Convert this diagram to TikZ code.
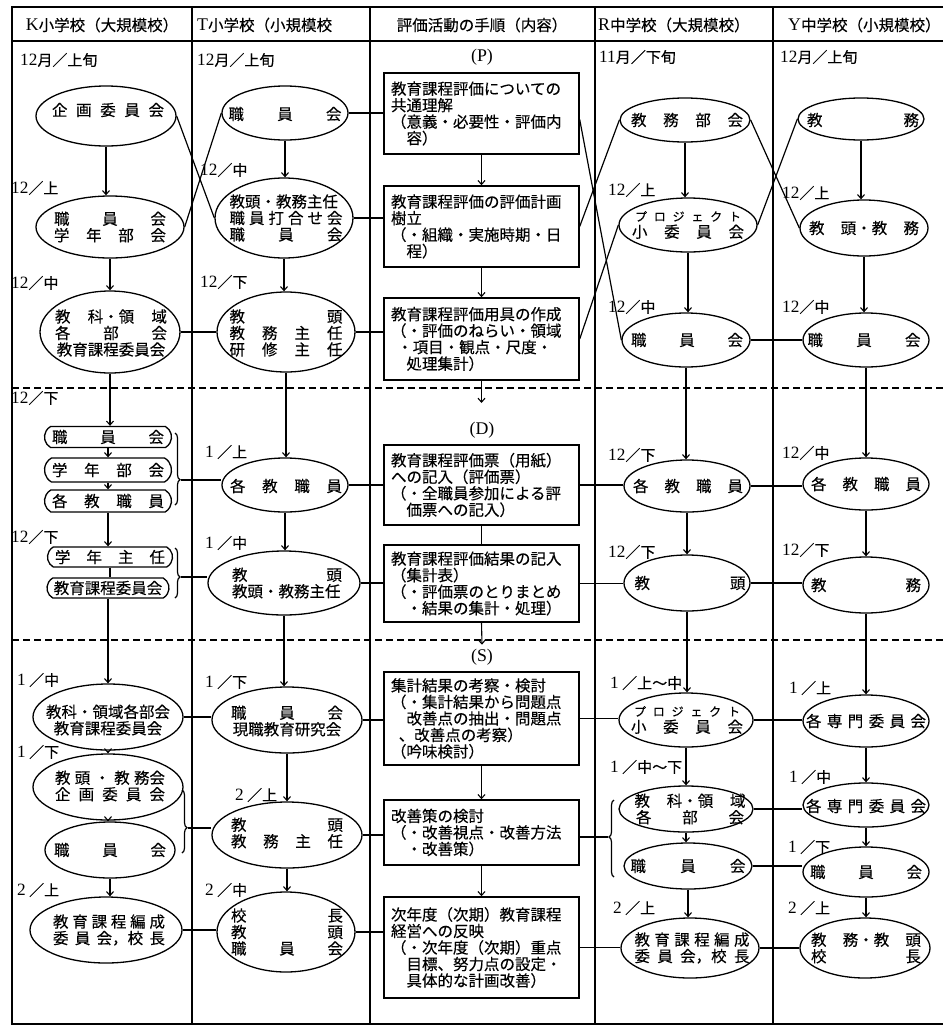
\documentclass[tikz,border=0pt]{standalone}
\usepackage{fontspec}
\setmainfont{Noto Sans CJK JP}[FakeBold=0.3]
\newfontfamily\lat{Liberation Serif}[Scale=1.15]
\usetikzlibrary{shapes.geometric,shapes.misc,arrows.meta,decorations.pathreplacing}
\newcommand{\spr}[2]{\makebox[#1pt][s]{#2}}
\newcommand{\dg}[1]{{\lat #1}}
\begin{document}
\begin{tikzpicture}[x=1pt,y=-1pt,
  every node/.style={font=\fontsize{15.5}{16.5}\selectfont, inner sep=0pt},
  ell/.style={draw, ellipse, line width=1.3pt},
  capsule/.style={draw, rounded rectangle, rounded rectangle arc length=120, line width=1.3pt},
  box/.style={draw, line width=1.4pt, minimum width=195pt, text width=181pt, align=left, inner xsep=7pt},
  ln/.style={line width=1.2pt},
  arr/.style={line width=1.1pt, -{Straight Barb[length=4pt,width=7pt]}},
  lbl/.style={anchor=west, font=\fontsize{15}{16}\selectfont},
  hd/.style={font=\fontsize{15.5}{17}\selectfont},
  frm/.style={line width=1.8pt},
  col/.style={line width=1.2pt},
  sep/.style={line width=1.3pt, dash pattern=on 7pt off 4pt},
  brc/.style={line width=1.2pt, decorate}
]
\useasboundingbox (0,0) rectangle (943,1028);
% frame and grid
\draw[frm] (943,7) -- (12,7) -- (12,1024) -- (943,1024);
\draw[col] (12,41) -- (943,41);
\foreach \x in {192,370,595,773} \draw[col] (\x,7) -- (\x,1024);
\draw[sep] (12,388) -- (943,388);
\draw[sep] (12,640) -- (943,640);
% headers
\node[hd] (hK) at (102,25) {\dg{K}小学校（大規模校）};
\node[hd, anchor=west] (hT) at (197,25) {\dg{T}小学校（小規模校};
\node[hd] (hM) at (482,25) {評価活動の手順（内容）};
\node[hd, anchor=west] (hR) at (598,25) {\dg{R}中学校（大規模校）};
\node[hd, anchor=west] (hY) at (788,25) {\dg{Y}中学校（小規模校）};
% phase labels
\node (P) at (482,57) {\dg{(P)}};
\node (D) at (482,430) {\dg{(D)}};
\node (S) at (482,657) {\dg{(S)}};
% date labels
\node[lbl] (l1) at (20,60) {\dg{12}月／上旬};
\node[lbl] (l2) at (197,60) {\dg{12}月／上旬};
\node[lbl] (l3) at (599,57) {\dg{11}月／下旬};
\node[lbl] (l4) at (780,57) {\dg{12}月／上旬};
\node[lbl] (l5) at (11,188) {\dg{12}／上};
\node[lbl] (l6) at (200,170) {\dg{12}／中};
\node[lbl] (l7) at (11,283) {\dg{12}／中};
\node[lbl] (l8) at (200,282) {\dg{12}／下};
\node[lbl] (l9) at (608,190) {\dg{12}／上};
\node[lbl] (l10) at (782,193) {\dg{12}／上};
\node[lbl] (l11) at (608,307) {\dg{12}／中};
\node[lbl] (l12) at (782,307) {\dg{12}／中};
\node[lbl] (l13) at (11,398) {\dg{12}／下};
\node[lbl] (l14) at (205,452) {\dg{1} ／上};
\node[lbl] (l15) at (608,455) {\dg{12}／下};
\node[lbl] (l16) at (782,453) {\dg{12}／中};
\node[lbl] (l17) at (11,537) {\dg{12}／下};
\node[lbl] (l18) at (205,543) {\dg{1} ／中};
\node[lbl] (l19) at (608,552) {\dg{12}／下};
\node[lbl] (l20) at (782,550) {\dg{12}／下};
\node[lbl] (l21) at (17,680) {\dg{1} ／中};
\node[lbl] (l22) at (205,682) {\dg{1} ／下};
\node[lbl] (l23) at (610,683) {\dg{1} ／上〜中};
\node[lbl] (l24) at (789,688) {\dg{1} ／上};
\node[lbl] (l25) at (17,752) {\dg{1} ／下};
\node[lbl] (l26) at (610,767) {\dg{1} ／中〜下};
\node[lbl] (l27) at (789,777) {\dg{1} ／中};
\node[lbl] (l28) at (235,795) {\dg{2} ／上};
\node[lbl] (l29) at (788,847) {\dg{1} ／下};
\node[lbl] (l30) at (17,890) {\dg{2} ／上};
\node[lbl] (l31) at (205,890) {\dg{2} ／中};
\node[lbl] (l32) at (613,908) {\dg{2} ／上};
\node[lbl] (l33) at (788,908) {\dg{2} ／上};
% ---------------- K column
\node[ell, minimum width=140pt, minimum height=60pt] (k1) at (106,116) {};
\node[ell, minimum width=148pt, minimum height=62pt] (k2) at (110,227) {};
\node[ell, minimum width=140pt, minimum height=82pt] (k3) at (110,332) {};
\node[capsule, minimum width=127pt, minimum height=21pt] (c1) at (108,437) {};
\node[capsule, minimum width=127pt, minimum height=24pt] (c2) at (108,470) {};
\node[capsule, minimum width=127pt, minimum height=22pt] (c3) at (108,501) {};
\node[capsule, minimum width=125pt, minimum height=20pt] (c4) at (110,557) {};
\node[capsule, minimum width=122pt, minimum height=20pt] (c5) at (108,588) {};
\node[ell, minimum width=150pt, minimum height=66pt] (k6) at (108,717) {};
\node[ell, minimum width=150pt, minimum height=66pt] (k7) at (108,787) {};
\node[ell, minimum width=130pt, minimum height=56pt] (k8) at (110,850) {};
\node[ell, minimum width=152pt, minimum height=66pt] (k9) at (106,930) {};
\node (k1t) at (108,110) {\spr{112}{企 画 委 員 会}};
\node[align=center] (k2t) at (110,227) {\spr{112}{職 員 会}\\\spr{112}{学 年 部 会}};
\node[align=center] (k3t) at (111,333) {\spr{112}{教 科・領 域}\\\spr{112}{各 部 会}\\教育課程委員会};
\node (c1t) at (108,437) {\spr{112}{職 員 会}};
\node (c2t) at (108,470) {\spr{112}{学 年 部 会}};
\node (c3t) at (108,501) {\spr{112}{各 教 職 員}};
\node (c4t) at (110,557) {\spr{110}{学 年 主 任}};
\node (c5t) at (108,588) {教育課程委員会};
\node[align=center] (k6t) at (108,720) {教科・領域各部会\\教育課程委員会};
\node[align=center] (k7t) at (110,786) {\spr{110}{教 頭 ・ 教 務会}\\\spr{110}{企 画 委 員 会}};
\node (k8t) at (110,850) {\spr{112}{職 員 会}};
\node[align=center] (k9t) at (109,930) {\spr{112}{教 育 課 程 編 成}\\\spr{112}{委 員 会，校 長}};
% ---------------- T column
\node[ell, minimum width=126pt, minimum height=54pt] (t1) at (285,113) {};
\node[ell, minimum width=138pt, minimum height=80pt] (t2) at (284,218) {};
\node[ell, minimum width=138pt, minimum height=80pt] (t3) at (286,332) {};
\node[ell, minimum width=126pt, minimum height=54pt] (t4) at (285,485) {};
\node[ell, minimum width=152pt, minimum height=64pt] (t5) at (284,583) {};
\node[ell, minimum width=150pt, minimum height=66pt] (t6) at (287,720) {};
\node[ell, minimum width=150pt, minimum height=66pt] (t7) at (287,835) {};
\node[ell, minimum width=138pt, minimum height=80pt] (t8) at (286,932) {};
\node (t1t) at (285,114) {\spr{113}{職 員 会}};
\node[align=center] (t2t) at (286,218) {\spr{113}{教頭・教務主任}\\\spr{113}{職 員 打 合 せ 会}\\\spr{113}{職 員 会}};
\node[align=center] (t3t) at (286,333) {\spr{113}{教 頭}\\\spr{113}{教 務 主 任}\\\spr{113}{研 修 主 任}};
\node (t4t) at (286,486) {\spr{112}{各 教 職 員}};
\node[align=center] (t5t) at (287,583) {\spr{110}{教 頭}\\\spr{110}{教頭・教務主任}};
\node[align=center] (t6t) at (287,721) {\spr{112}{職 員 会}\\現職教育研究会};
\node[align=center] (t7t) at (287,833) {\spr{112}{教 頭}\\\spr{112}{教 務 主 任}};
\node[align=center] (t8t) at (287,932) {\spr{112}{校 長}\\\spr{112}{教 頭}\\\spr{112}{職 員 会}};
% ---------------- middle boxes
\node[box, minimum height=81pt] (b1) at (481.5,113.5) {教育課程評価についての\\共通理解\\（意義・必要性・評価内\\\hspace*{1em}容）};
\node[box, minimum height=81pt] (b2) at (481.5,226.5) {教育課程評価の評価計画\\樹立\\（・組織・実施時期・日\\\hspace*{1em}程）};
\node[box, minimum height=82pt] (b3) at (481.5,339) {教育課程評価用具の作成\\（・評価のねらい・領域\\\hspace*{0.4em}・項目・観点・尺度・\\\hspace*{1em}処理集計）};
\node[box, minimum height=80pt] (b4) at (481.5,485) {教育課程評価票（用紙）\\への記入（評価票）\\（・全職員参加による評\\\hspace*{1em}価票への記入）};
\node[box, minimum height=77pt] (b5) at (481.5,583.5) {教育課程評価結果の記入\\（集計表）\\（・評価票のとりまとめ\\\hspace*{1em}・結果の集計・処理）};
\node[box, minimum height=93pt] (b6) at (481.5,718.5) {集計結果の考察・検討\\（・集計結果から問題点\\\hspace*{1em}改善点の抽出・問題点\\\hspace*{0.5em}、改善点の考察）\\（吟味検討）};
\node[box, minimum height=65pt] (b7) at (481.5,832.5) {改善策の検討\\（・改善視点・改善方法\\\hspace*{1em}・改善策）};
\node[box, minimum height=101pt] (b8) at (481.5,947.5) {次年度（次期）教育課程\\経営への反映\\（・次年度（次期）重点\\\hspace*{1em}目標、努力点の設定・\\\hspace*{1em}具体的な計画改善）};
% ---------------- R column
\node[ell, minimum width=130pt, minimum height=44pt] (r1) at (685,120) {};
\node[ell, minimum width=138pt, minimum height=54pt] (r2) at (688,225) {};
\node[ell, minimum width=128pt, minimum height=54pt] (r3) at (686,340) {};
\node[ell, minimum width=126pt, minimum height=52pt] (r4) at (687,486) {};
\node[ell, minimum width=126pt, minimum height=56pt] (r5) at (687,583) {};
\node[ell, minimum width=134pt, minimum height=54pt] (r6) at (686,720) {};
\node[ell, minimum width=134pt, minimum height=46pt] (r7) at (686,809) {};
\node[ell, minimum width=128pt, minimum height=46pt] (r8) at (688,866) {};
\node[ell, minimum width=138pt, minimum height=60pt] (r9) at (690,948) {};
\node (r1t) at (687,120) {\spr{112}{教 務 部 会}};
\node[align=center] (r2t) at (688,225) {\spr{106}{\fontsize{12}{13}\selectfont プ ロ ジ ェ ク ト}\\\spr{112}{小 委 員 会}};
\node (r3t) at (687,340) {\spr{112}{職 員 会}};
\node (r4t) at (688,486) {\spr{110}{各 教 職 員}};
\node (r5t) at (690,583) {\spr{111}{教 頭}};
\node[align=center] (r6t) at (687,720) {\spr{106}{\fontsize{12}{13}\selectfont プ ロ ジ ェ ク ト}\\\spr{112}{小 委 員 会}};
\node[align=center] (r7t) at (690,809) {\spr{111}{教 科・領 域}\\\spr{108}{各 部 会}};
\node (r8t) at (688,866) {\spr{115}{職 員 会}};
\node[align=center] (r9t) at (692,948) {\spr{115}{教 育 課 程 編 成}\\\spr{115}{委 員 会，校 長}};
% ---------------- Y column
\node[ell, minimum width=126pt, minimum height=42pt] (y1) at (861,119) {};
\node[ell, minimum width=128pt, minimum height=56pt] (y2) at (864,228) {};
\node[ell, minimum width=126pt, minimum height=54pt] (y3) at (866,340) {};
\node[ell, minimum width=126pt, minimum height=52pt] (y4) at (866,484) {};
\node[ell, minimum width=126pt, minimum height=56pt] (y5) at (866,585) {};
\node[ell, minimum width=126pt, minimum height=52pt] (y6) at (866,721) {};
\node[ell, minimum width=126pt, minimum height=44pt] (y7) at (866,805) {};
\node[ell, minimum width=126pt, minimum height=50pt] (y8) at (866,872) {};
\node[ell, minimum width=130pt, minimum height=60pt] (y9) at (865,948) {};
\node (y1t) at (863,120) {\spr{112}{教 務}};
\node (y2t) at (864,228) {\spr{110}{教 頭・教 務}};
\node (y3t) at (864,340) {\spr{113}{職 員 会}};
\node (y4t) at (866,484) {\spr{110}{各 教 職 員}};
\node (y5t) at (866,585) {\spr{110}{教 務}};
\node (y6t) at (866,721) {\spr{120}{各 専 門 委 員 会}};
\node (y7t) at (866,806) {\spr{120}{各 専 門 委 員 会}};
\node (y8t) at (866,872) {\spr{112}{職 員 会}};
\node[align=center] (y9t) at (866,948) {\spr{110}{教 務・教 頭}\\\spr{110}{校 長}};
% ---------------- vertical arrows
\foreach \a/\b in {k1/k2,k2/k3,k3/c1,c1/c2,c2/c3,c3/c4,c5/k6,k6/k7,k7/k8,k8/k9,
  t1/t2,t2/t3,t3/t4,t4/t5,t5/t6,t6/t7,t7/t8,
  b1/b2,b2/b3,b6/b7,b7/b8,
  r1/r2,r2/r3,r3/r4,r4/r5,r5/r6,r6/r7,r7/r8,r8/r9,
  y1/y2,y2/y3,y3/y4,y4/y5,y5/y6,y6/y7,y7/y8,y8/y9}
  \draw[arr] (\a.south) -- (\a.south |- \b.north);
\draw[ln] (c4.south) -- (c4.south |- c5.north);
\draw[ln] (b4.south) -- (b5.north);
\coordinate (dArr) at (481.5,403);
\draw[arr] (b3.south) -- (dArr);
\draw[arr] (b5.south) -- ([yshift=4pt]S.north);
% ---------------- crossing lines
\draw[ln] (k1.east) -- (t2.west);
\draw[ln] (k2.east) -- (t1.west);
\draw[ln] ([yshift=-6pt]b1.east) -- (r3.west);
\draw[ln] (b2.east) -- (r1.west);
\draw[ln] (b3.east) -- (r2.west);
\draw[ln] (r1.east) -- (y2.west);
\draw[ln] (r2.east) -- (y1.west);
% ---------------- braces
\draw[brc, decoration={brace, amplitude=5pt, aspect=0.65}] (175,433) -- (175,505);
\coordinate (kb1) at (181,480);
\draw[brc, decoration={brace, amplitude=5pt, aspect=0.58}] (175,548) -- (175,598);
\coordinate (kb2) at (181,577);
\draw[brc, decoration={brace, amplitude=5pt, aspect=0.6}] (182,790) -- (182,853);
\coordinate (kb3) at (188,828);
\draw[brc, decoration={brace, amplitude=5pt, aspect=0.52}] (614,877) -- (614,800);
\coordinate (rb) at (608,837);
% ---------------- horizontal connectors
\draw[ln] (t1.east) -- (t1.east -| b1.west);
\draw[ln] (t2.east) -- (t2.east -| b2.west);
\draw[ln] (k3.east) -- (k3.east -| t3.west);
\draw[ln] (t3.east) -- (t3.east -| b3.west);
\draw[ln] (r3.east) -- (r3.east -| y3.west);
\draw[ln] (kb1) -- (kb1 -| t4.west);
\draw[ln] (t4.east) -- (t4.east -| b4.west);
\draw[ln] (b4.east) -- (b4.east -| r4.west);
\draw[ln] (r4.east) -- (r4.east -| y4.west);
\draw[ln] (kb2) -- (kb2 -| t5.west);
\draw[ln] (t5.east) -- (t5.east -| b5.west);
\draw[ln] (b5.east) -- (b5.east -| r5.west);
\draw[ln] (r5.east) -- (r5.east -| y5.west);
\draw[ln] (k6.east) -- (k6.east -| t6.west);
\draw[ln] (t6.east) -- (t6.east -| b6.west);
\draw[ln] (b6.east) -- (b6.east -| r6.west);
\draw[ln] (r6.east) -- (r6.east -| y6.west);
\draw[ln] (kb3) -- (kb3 -| t7.west);
\draw[ln] (t7.east) -- (t7.east -| b7.west);
\draw[ln] (b7.east |- rb) -- (rb);
\draw[ln] (r7.east) -- (r7.east -| y7.west);
\draw[ln] (r8.east) -- (r8.east -| y8.west);
\draw[ln] (k9.east) -- (k9.east -| t8.west);
\draw[ln] (t8.east) -- (t8.east -| b8.west);
\draw[ln] (b8.east) -- (b8.east -| r9.west);
\draw[ln] (r9.east) -- (r9.east -| y9.west);
\end{tikzpicture}
\end{document}
